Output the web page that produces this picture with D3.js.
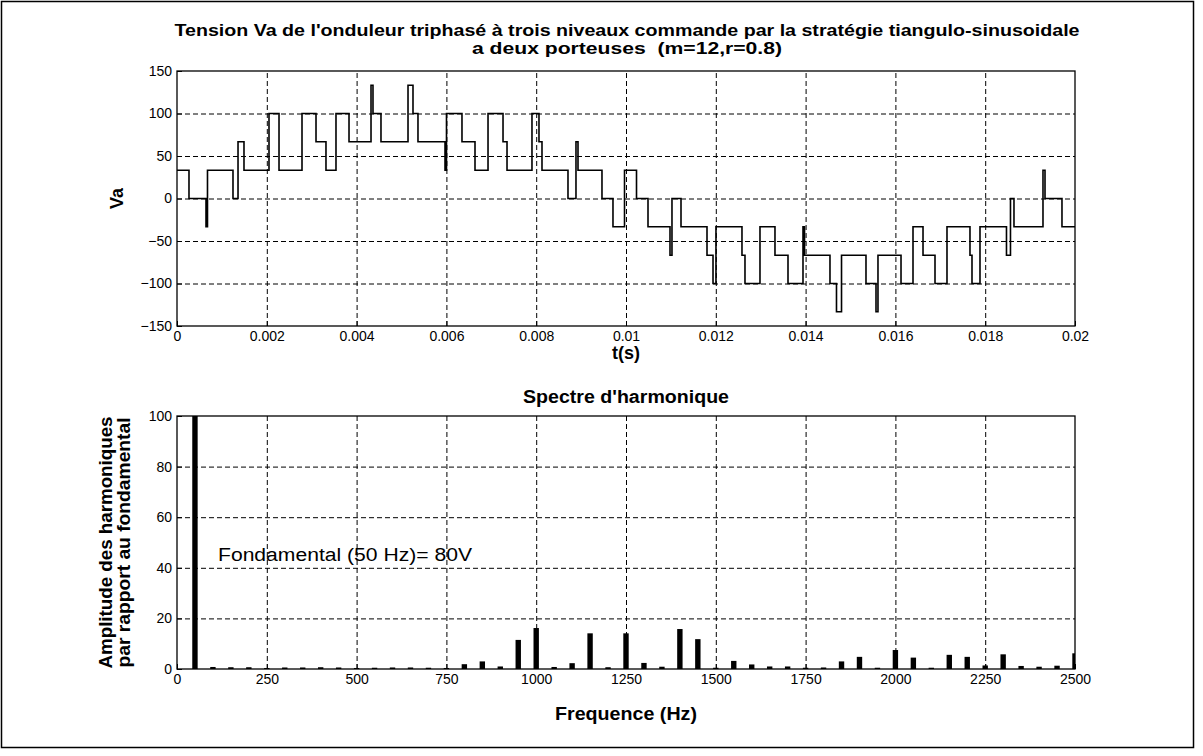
<!DOCTYPE html>
<html>
<head>
<meta charset="utf-8">
<script src="https://cdn.jsdelivr.net/npm/d3@7/dist/d3.min.js"></script>
<style>
  html, body { margin: 0; padding: 0; background: #fff; }
  svg { display: block; font-family: "Liberation Sans", Arial, sans-serif; }
  .tick text { font-family: "Liberation Sans Narrow", "Liberation Sans", Arial, sans-serif; font-size: 14px; fill: #000; }
  .grid line { stroke: #000; stroke-width: 1; stroke-dasharray: 5,3; }
  .grid path { display: none; }
  .lbl { font-size: 18px; fill: #000; }
</style>
</head>
<body>
<svg id="chart" width="1203" height="756"></svg>
<script>
// Va step waveform: switching instants (s) and the level held from each instant
const vaTimes = [0, 0.000267, 0.000646, 0.000679, 0.001247, 0.001359, 0.001492, 0.002049, 0.002272, 0.002784,
  0.003096, 0.003318, 0.003541, 0.003831, 0.004321, 0.004365, 0.004543, 0.005145, 0.005256, 0.005367,
  0.005969, 0.006002, 0.006347, 0.006637, 0.006927, 0.007261, 0.00735, 0.007906, 0.008062, 0.008129,
  0.008708, 0.008886, 0.008931, 0.009465, 0.00971, 0.009967, 0.010234, 0.01049, 0.01098, 0.011024,
  0.011225, 0.011804, 0.011938, 0.012004, 0.012583, 0.01265, 0.012984, 0.013318, 0.013608, 0.013942,
  0.013976, 0.014543, 0.014688, 0.0148, 0.015345, 0.015568, 0.015612, 0.016125, 0.016392, 0.016615,
  0.016882, 0.017149, 0.017661, 0.017706, 0.017884, 0.018474, 0.018563, 0.018641, 0.019287, 0.019332,
  0.01971, 0.02];
const vaLevels = [33.3, 0, -33.3, 33.3, 0, 66.7, 33.3, 100, 33.3, 100,
  66.7, 33.3, 100, 66.7, 133.3, 100, 66.7, 133.3, 100, 66.7,
  33.3, 100, 66.7, 33.3, 100, 66.7, 33.3, 100, 66.7, 33.3,
  0, 66.7, 33.3, 0, -33.3, 33.3, 0, -33.3, -66.7, 0,
  -33.3, -66.7, -100, -33.3, -66.7, -100, -33.3, -66.7, -100, -33.3,
  -66.7, -100, -133.3, -66.7, -100, -133.3, -66.7, -100, -33.3, -66.7,
  -100, -33.3, -66.7, -100, -33.3, -66.7, 0, -33.3, 33.3, 0,
  -33.3, -33.3];

// Harmonic spectrum (% of fundamental)
const freqs = d3.range(50, 2501, 50);
const amps = [100, 0.8, 0.7, 0.7, 0.4, 0.6, 0.6, 0.7, 0.6, 0.4,
  0.5, 0.6, 0.6, 0.5, 0.4, 1.9, 3.0, 1.0, 11.5, 16.2,
  0.8, 2.3, 14.1, 0.7, 14.1, 2.4, 0.9, 15.8, 11.8, 0.5,
  3.2, 1.8, 1.0, 1.0, 0.5, 0.6, 3.0, 4.8, 0.5, 7.5,
  4.5, 0.5, 5.6, 4.8, 1.4, 5.8, 1.2, 0.9, 1.3, 6.2];

const timeTicks = [0, 0.002, 0.004, 0.006, 0.008, 0.01, 0.012, 0.014, 0.016, 0.018, 0.02];
const timeTickLabels = ["0", "0.002", "0.004", "0.006", "0.008", "0.01", "0.012", "0.014", "0.016", "0.018", "0.02"];
const vaTicks = [150, 100, 50, 0, -50, -100, -150];
const freqTicks = [0, 250, 500, 750, 1000, 1250, 1500, 1750, 2000, 2250, 2500];
const ampTicks = [0, 20, 40, 60, 80, 100];

const svg = d3.select("#chart");

// figure frame
svg.append("rect")
  .attr("x", 1.5).attr("y", 1.5).attr("width", 1192).attr("height", 746)
  .attr("fill", "none").attr("stroke", "#000").attr("stroke-width", 1.5);

const L = 177, R = 1075;

// ---------- top plot ----------
const box1 = { t: 71, b: 326 };
const x1 = d3.scaleLinear().domain([0, 0.02]).range([L, R]);
const y1 = d3.scaleLinear().domain([-150, 150]).range([box1.b, box1.t]);

svg.append("g").attr("class", "grid")
  .attr("transform", `translate(0,${box1.b})`)
  .call(d3.axisBottom(x1).tickValues(timeTicks.slice(1, -1)).tickSize(-(box1.b - box1.t)).tickFormat(""));
svg.append("g").attr("class", "grid")
  .attr("transform", `translate(${L},0)`)
  .call(d3.axisLeft(y1).tickValues(vaTicks.slice(1, -1)).tickSize(-(R - L)).tickFormat(""));

const stepData = vaTimes.map((t, i) => [t, vaLevels[i]]);
svg.append("path")
  .datum(stepData)
  .attr("fill", "none").attr("stroke", "#000").attr("stroke-width", 1.6)
  .attr("d", d3.line().x(d => x1(d[0])).y(d => y1(d[1])).curve(d3.curveStepAfter));

svg.append("rect")
  .attr("x", L).attr("y", box1.t).attr("width", R - L).attr("height", box1.b - box1.t)
  .attr("fill", "none").attr("stroke", "#000").attr("stroke-width", 1.3);

svg.append("g")
  .attr("transform", `translate(0,${box1.b})`)
  .call(d3.axisBottom(x1).tickValues(timeTicks).tickSize(-5).tickPadding(5)
    .tickFormat((d, i) => timeTickLabels[i]))
  .call(g => g.select(".domain").remove());
svg.append("g")
  .attr("transform", `translate(${L},0)`)
  .call(d3.axisLeft(y1).tickValues(vaTicks).tickSize(-5).tickPadding(5))
  .call(g => g.select(".domain").remove());

// ---------- bottom plot ----------
const box2 = { t: 416, b: 669 };
const x2 = d3.scaleLinear().domain([0, 2500]).range([L, R]);
const y2 = d3.scaleLinear().domain([0, 100]).range([box2.b, box2.t]);

svg.append("g").attr("class", "grid")
  .attr("transform", `translate(0,${box2.b})`)
  .call(d3.axisBottom(x2).tickValues(freqTicks.slice(1, -1)).tickSize(-(box2.b - box2.t)).tickFormat(""));
svg.append("g").attr("class", "grid")
  .attr("transform", `translate(${L},0)`)
  .call(d3.axisLeft(y2).tickValues(ampTicks.slice(1, -1)).tickSize(-(R - L)).tickFormat(""));

svg.append("clipPath").attr("id", "clip2")
  .append("rect").attr("x", L).attr("y", box2.t).attr("width", R - L).attr("height", box2.b - box2.t);

const barW = x2(15) - x2(0);
svg.append("g").attr("clip-path", "url(#clip2)")
  .selectAll("rect")
  .data(freqs.map((f, i) => ({ f, a: amps[i] })))
  .join("rect")
  .attr("x", d => x2(d.f) - barW / 2)
  .attr("y", d => y2(d.a))
  .attr("width", barW)
  .attr("height", d => y2(0) - y2(d.a))
  .attr("fill", "#000");

svg.append("rect")
  .attr("x", L).attr("y", box2.t).attr("width", R - L).attr("height", box2.b - box2.t)
  .attr("fill", "none").attr("stroke", "#000").attr("stroke-width", 1.3);

svg.append("g")
  .attr("transform", `translate(0,${box2.b})`)
  .call(d3.axisBottom(x2).tickValues(freqTicks).tickSize(-5).tickPadding(5).tickFormat(d3.format("d")))
  .call(g => g.select(".domain").remove());
svg.append("g")
  .attr("transform", `translate(${L},0)`)
  .call(d3.axisLeft(y2).tickValues(ampTicks).tickSize(-5).tickPadding(5))
  .call(g => g.select(".domain").remove());

svg.selectAll(".tick line").filter(function () { return !this.closest(".grid"); })
  .attr("stroke", "#000");

// ---------- texts ----------
const cx = (L + R) / 2;
function label(x, y, txt, opts = {}) {
  const t = svg.append("text").attr("class", "lbl")
    .attr("text-anchor", opts.anchor || "middle")
    .attr("font-weight", opts.bold === false ? "normal" : "bold")
    .attr("xml:space", "preserve")
    .text(txt);
  if (opts.size) t.style("font-size", opts.size + "px");
  if (opts.rotate) t.attr("transform", `translate(${x},${y}) rotate(-90)`);
  else t.attr("x", x).attr("y", y);
  if (opts.len) t.attr("textLength", opts.len).attr("lengthAdjust", "spacingAndGlyphs");
  return t;
}

label(627, 36, "Tension Va de l'onduleur triphasé à trois niveaux commande par la stratégie tiangulo-sinusoidale", { len: 905, size: 16 });
label(627, 54, "a deux porteuses  (m=12,r=0.8)", { len: 310, size: 16 });

label(cx, 359, "t(s)");
label(123, y1(0), "Va", { rotate: true });

label(cx, 403, "Spectre d'harmonique", { len: 206 });
label(cx, 720, "Frequence (Hz)", { len: 142 });

const ymid = (box2.t + box2.b) / 2;
label(112, ymid, "Amplitude des harmoniques", { rotate: true, len: 252 });
label(130, ymid, "par rapport au fondamental", { rotate: true, len: 250 });

label(218, 561, "Fondamental (50 Hz)= 80V", { anchor: "start", bold: false, len: 254 });
</script>
</body>
</html>
